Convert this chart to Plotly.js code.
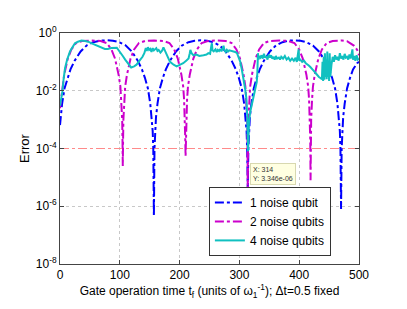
<!DOCTYPE html>
<html><head><meta charset="utf-8">
<script src="https://cdn.plot.ly/plotly-3.0.1.min.js"></script>
<style>body{margin:0;background:#fff}#c{width:407px;height:309px}</style>
</head><body><div id="c"></div>
<script>
const blueX = [0,1,3.5,7.5,12.5,17.5,24.5,34.5,44.5,55.5,66,78,88.5,99,110,120,130,137,142,147,151,153.5,155,156,157,158,159,160.5,163,167,172,177,184,194,204,215,225,235.5,246,256,267,277,287,294,299,304,308,310.5,312,313,314,315,316,317.5,320,324,329,334,341,351,361,372,382,392,402,412,423,433,443,450,455,460,464,466.5,468,469,470,471,472,473.5,476,480,485,490,497,500];
const blueY = [6.5e-4,1.2e-3,3.5e-3,0.012,0.028,0.055,0.11,0.23,0.37,0.48,0.54,0.56,0.54,0.48,0.37,0.23,0.11,0.055,0.028,0.012,3.5e-3,1.2e-3,4e-4,1e-4,4.6e-7,1e-4,4e-4,1.2e-3,3.5e-3,0.012,0.028,0.055,0.11,0.23,0.37,0.48,0.54,0.56,0.54,0.48,0.37,0.23,0.11,0.055,0.028,0.012,3.5e-3,1.2e-3,4e-4,1e-4,3.3e-6,1e-4,4e-4,1.2e-3,3.5e-3,0.012,0.028,0.055,0.11,0.23,0.37,0.48,0.54,0.56,0.54,0.48,0.37,0.23,0.11,0.055,0.028,0.012,3.5e-3,1.2e-3,4e-4,1e-4,8e-7,1e-4,4e-4,1.2e-3,3.5e-3,0.012,0.028,0.055,0.09,0.1];

const magX = [0,1.5,4,7,13,19,27,37,52.5,68,78,86,92,98,101,102.5,104,104.5,105,105.5,106,107.5,109,112,118,124,132,142,157.5,173,183,191,197,203,206,207.5,209,209.5,210,210.5,211,212.5,214,217,223,229,237,247,262,277,287,295,301,307,310,311.5,313,313.5,314,314.5,315,316.5,318,321,327,333,341,351,366.5,382,392,400,406,412,415,416.5,418,418.5,419,419.5,420,421.5,423,426,432,438,446,456,471.5,480,486,492,497,500];
const magY = [2.5e-3,5e-3,0.014,0.036,0.13,0.27,0.45,0.53,0.55,0.53,0.45,0.27,0.13,0.036,0.014,5e-3,1e-3,2e-4,2.5e-5,2e-4,1e-3,5e-3,0.014,0.036,0.13,0.27,0.45,0.53,0.55,0.53,0.45,0.27,0.13,0.036,0.014,5e-3,1e-3,2e-4,5.5e-5,2e-4,1e-3,5e-3,0.014,0.036,0.13,0.27,0.45,0.53,0.55,0.53,0.45,0.27,0.13,0.036,0.014,5e-3,1e-3,2e-4,3.3e-6,2e-4,1e-3,5e-3,0.014,0.036,0.13,0.27,0.45,0.53,0.55,0.53,0.45,0.27,0.13,0.036,0.014,5e-3,1e-3,2e-4,8e-6,2e-4,1e-3,5e-3,0.014,0.036,0.13,0.27,0.45,0.53,0.55,0.52,0.44,0.36,0.26,0.17];

const cyanX = [0,2,4,6,8.4,12,16.7,20,25,30,36,42,47,55,64,70,75,80,86,95,100,105,109,114,119,124,128,133,138,141,143.5,145,147,149,151,153,155,157,159,161,163,165,168,171,173,176,180,184,190,195,201,206,211,215,217,218,220,223,228,233,240,245,248,251,253,254,255,257,260,262,264,266,268,270,272,273.5,275,277,279,281,283,286,290,293,296,299,301.5,304,307,309.5,311.6,313,314.5,316,318,321,325,329,330,331,332,333,335,337,339,341,343,345,347,349,351,353,355,357,359,361,363,366,368,370,373,376,379,382,385,388,391,394,396,398,399,400,402,405,408,411,413,416,419,422,424,427,430,433,436,438,439,440,441,442,443,444,445,446,447,448,449,450,451,452,454,456,458,460,462,464,466,468,470,472,474,476,478,480,482,484,486,488,489,490,492,494,496,498,500];
const cyanY = [3e-3,5e-3,9.5e-3,0.025,0.06,0.12,0.23,0.3,0.44,0.5,0.55,0.53,0.5,0.42,0.34,0.3,0.28,0.28,0.3,0.31,0.23,0.16,0.12,0.085,0.064,0.07,0.08,0.11,0.15,0.2,0.3,0.24,0.32,0.26,0.28,0.22,0.3,0.25,0.27,0.3,0.24,0.26,0.21,0.25,0.32,0.24,0.15,0.1,0.08,0.07,0.08,0.09,0.11,0.13,0.2,0.26,0.2,0.17,0.18,0.16,0.17,0.18,0.2,0.19,0.35,0.44,0.25,0.23,0.27,0.22,0.26,0.24,0.28,0.23,0.3,0.36,0.25,0.22,0.26,0.23,0.25,0.24,0.24,0.22,0.2,0.14,0.1,0.055,0.027,0.012,5.6e-3,1.5e-3,8e-5,8e-4,1.8e-3,3.3e-3,7e-3,0.02,0.04,0.2,0.12,0.16,0.14,0.17,0.13,0.19,0.14,0.16,0.12,0.18,0.14,0.17,0.13,0.15,0.12,0.16,0.13,0.14,0.12,0.15,0.13,0.16,0.12,0.14,0.11,0.13,0.11,0.14,0.1,0.18,0.27,0.11,0.12,0.1,0.11,0.09,0.085,0.075,0.065,0.058,0.05,0.042,0.035,0.03,0.027,0.025,0.1,0.022,0.15,0.024,0.2,0.03,0.12,0.025,0.23,0.03,0.1,0.022,0.2,0.03,0.08,0.15,0.1,0.17,0.12,0.15,0.11,0.2,0.13,0.16,0.12,0.19,0.14,0.15,0.12,0.18,0.13,0.24,0.27,0.12,0.16,0.11,0.17,0.12,0.13];

const refX = [0,500];
const refY = [1e-4,1e-4];
const tipX = [314];
const tipY = [3.346e-6];
const seriesNames = ['1 noise qubit','2 noise qubits','4 noise qubits'];
const xTicks = [0,100,200,300,400,500];
const yTicks = [1e-8,1e-6,1e-4,1e-2,1];
const yTickText = ['10<sup>-8</sup>','10<sup>-6</sup>','10<sup>-4</sup>','10<sup>-2</sup>','10<sup>0</sup>'];

const F = 'Liberation Sans, Arial, Helvetica, sans-serif';
const traces = [
  {x: refX, y: refY, mode:'lines', line:{color:'#ff8a8a', width:1, dash:'dashdot'}, showlegend:false, hoverinfo:'skip'},
  {x: blueX, y: blueY, mode:'lines', name: seriesNames[0], line:{color:'#0000ff', width:2, dash:'dashdot'}},
  {x: magX, y: magY, mode:'lines', name: seriesNames[1], line:{color:'#cc00cc', width:2, dash:'dashdot'}},
  {x: cyanX, y: cyanY, mode:'lines', name: seriesNames[2], line:{color:'#10c0c0', width:2}},
  {x: tipX, y: tipY, mode:'markers', showlegend:false, marker:{symbol:'square', size:6, color:'#000', line:{color:'#ffffe0', width:1}}}
];
const layout = {
  width:407, height:309,
  margin:{l:60, r:48, t:33, b:45},
  paper_bgcolor:'#fff', plot_bgcolor:'#fff',
  font:{family:F, size:12, color:'#000'},
  xaxis:{range:[0,500], tickvals:xTicks, ticks:'inside', ticklen:4, tickcolor:'#444',
    showline:true, linecolor:'#444', linewidth:1, mirror:'ticks',
    showgrid:true, gridcolor:'#c8c8c8', griddash:'dot', gridwidth:1, zeroline:false,
    tickfont:{size:12},
    title:{text:'Gate operation time t<sub>f</sub> (units of ω<sub>1</sub><sup>-1</sup>); Δt=0.5 fixed', font:{size:12}, standoff:0}},
  yaxis:{type:'log', range:[-8,0], tickvals:yTicks, ticktext:yTickText, ticks:'inside', ticklen:4, tickcolor:'#444',
    showline:true, linecolor:'#444', linewidth:1, mirror:'ticks',
    showgrid:true, gridcolor:'#c8c8c8', griddash:'dot', gridwidth:1, zeroline:false,
    tickfont:{size:12},
    title:{text:'Error', font:{size:13}, standoff:3}},
  legend:{x:0.906, y:0.035, xanchor:'right', yanchor:'bottom', bgcolor:'#fff', bordercolor:'#333', borderwidth:1,
    font:{size:12}, itemwidth:30, tracegroupgap:0},
  annotations:[{x:314, y:Math.log10(tipY[0]), xref:'x', yref:'y', text:'X: 314<br>Y: 3.346e-06', showarrow:false,
    xanchor:'left', yanchor:'bottom', xshift:2, yshift:6, align:'left',
    font:{size:7, color:'#333'}, bgcolor:'#ffffe1', bordercolor:'#d8d8b0', borderwidth:1, borderpad:2}],
  showlegend:true
};
Plotly.newPlot('c', traces, layout, {displayModeBar:false, staticPlot:true});
</script></body></html>
